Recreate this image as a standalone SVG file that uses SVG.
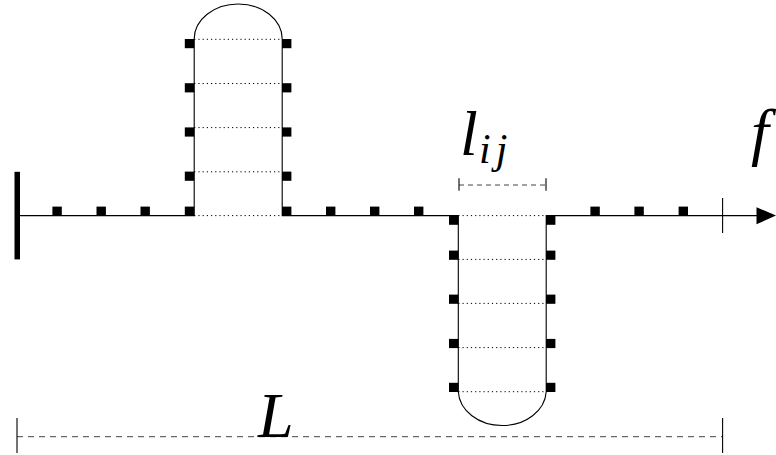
<svg xmlns="http://www.w3.org/2000/svg" width="776" height="455" viewBox="0 0 776 455">
<style>
.ln{stroke:#000;stroke-width:1.1;fill:none}
.dot{stroke:#000;stroke-width:1;stroke-dasharray:1.2 3;fill:none}
.dash{stroke:#444;stroke-width:1;stroke-dasharray:6 5;fill:none}
.dash2{stroke:#444;stroke-width:1;stroke-dasharray:5 4;fill:none}
.tick{stroke:#000;stroke-width:1.1}
.sq{fill:#000}
</style>
<defs>
<rect id="s" width="9.4" height="9.2" class="sq"/>
</defs>
<rect width="776" height="455" fill="#fff"/>
<g id="connectors">
<path class="ln" d="M17,215.6 H194.2 V39 A44,35 0 0 1 282.2,39 V215.6 H458.3 V391.7 A44,35.5 0 0 0 546.2,391.7 V215.6 H758"/>
<polygon points="756.5,207.2 776,215.6 756.5,224.2" fill="#000"/>
<line class="tick" x1="722.6" y1="198" x2="722.6" y2="233"/>
</g>
<g id="wall">
<rect x="14.5" y="171.8" width="5.5" height="87.6" fill="#000"/>
</g>
<g id="loop-upper">
<path class="dot" d="M194.2,39.3H282.2M194.2,83.5H282.2M194.2,127.6H282.2M194.2,171.8H282.2M194.2,215.6H282.2"/>
<use href="#s" x="184.8" y="39"/><use href="#s" x="184.8" y="83.2"/><use href="#s" x="184.8" y="127.4"/><use href="#s" x="184.8" y="171.6"/><use href="#s" x="184.8" y="206.6"/>
<use href="#s" x="282" y="39"/><use href="#s" x="282" y="83.2"/><use href="#s" x="282" y="127.4"/><use href="#s" x="282" y="171.6"/><use href="#s" x="282" y="206.6"/>
</g>
<g id="loop-lower">
<path class="dot" d="M458.3,215.6H546.2M458.3,259.4H546.2M458.3,303.4H546.2M458.3,347.6H546.2M458.3,391.7H546.2"/>
<use href="#s" x="449" y="215.6"/><use href="#s" x="449" y="250.6"/><use href="#s" x="449" y="294.6"/><use href="#s" x="449" y="338.9"/><use href="#s" x="449" y="382.8"/>
<use href="#s" x="546" y="215.6"/><use href="#s" x="546" y="250.6"/><use href="#s" x="546" y="294.6"/><use href="#s" x="546" y="338.9"/><use href="#s" x="546" y="382.8"/>
</g>
<g id="chain-beads">
<use href="#s" x="52.4" y="206.6"/><use href="#s" x="96.5" y="206.6"/><use href="#s" x="140.5" y="206.6"/>
<use href="#s" x="326" y="206.6"/><use href="#s" x="370" y="206.6"/><use href="#s" x="414" y="206.6"/>
<use href="#s" x="590.4" y="206.6"/><use href="#s" x="634.4" y="206.6"/><use href="#s" x="678.6" y="206.6"/>
</g>
<g id="dim-lij">
<line class="dash2" x1="459" y1="185" x2="546" y2="185"/>
<line class="tick" x1="459" y1="178.3" x2="459" y2="190.7"/>
<line class="tick" x1="546" y1="178.3" x2="546" y2="190.7"/>
<text font-family="Liberation Serif, DejaVu Serif, serif" font-style="italic" x="460" y="155" font-size="64">l</text>
<text font-family="Liberation Serif, DejaVu Serif, serif" font-style="italic" x="479" y="163" font-size="42" letter-spacing="5">ij</text>
</g>
<g id="dim-L">
<line class="dash" x1="17" y1="436.7" x2="722.6" y2="436.7"/>
<line class="tick" x1="17" y1="418" x2="17" y2="453"/>
<line class="tick" x1="722.6" y1="418" x2="722.6" y2="453"/>
<text font-family="Liberation Serif, DejaVu Serif, serif" font-style="italic" x="258" y="437" font-size="64">L</text>
</g>
<g id="label-f">
<text font-family="Liberation Serif, DejaVu Serif, serif" font-style="italic" x="751" y="153" font-size="64">f</text>
</g>
</svg>
